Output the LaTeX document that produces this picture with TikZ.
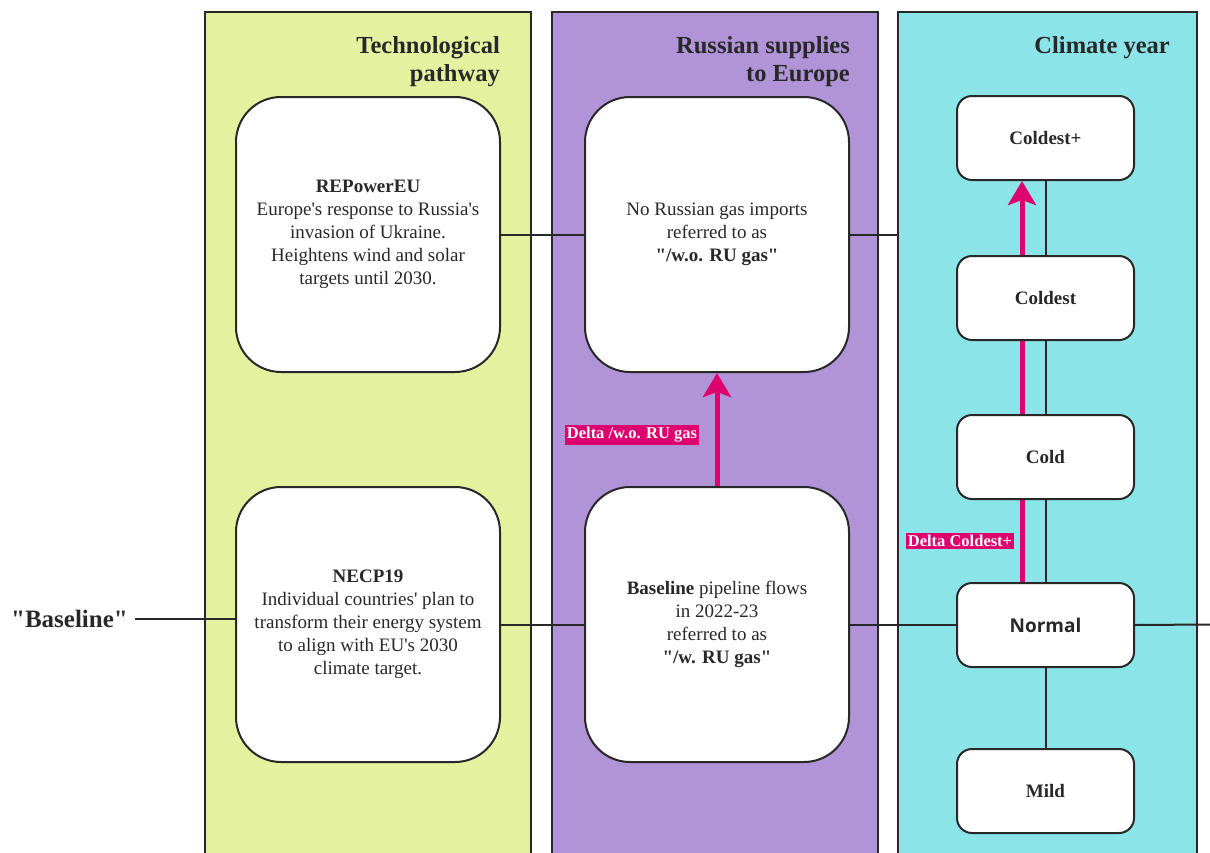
\documentclass[tikz,border=0pt]{standalone}
\usepackage{fontspec}
\setmainfont{Liberation Serif}
\newfontfamily\opensans{Open Sans}
\usetikzlibrary{arrows.meta}
\pgfdeclarelayer{cols}
\pgfdeclarelayer{bg}
\pgfsetlayers{cols,bg,main}
\newcommand\dq{\textquotedbl}
\newcommand\sq{\textquotesingle}
\definecolor{colgreen}{RGB}{228,242,160}
\definecolor{colpurple}{RGB}{177,148,216}
\definecolor{colcyan}{RGB}{138,228,232}
\definecolor{pinkc}{RGB}{222,0,110}
\definecolor{dark}{RGB}{40,40,40}
\begin{document}
\begin{tikzpicture}[x=1pt,y=-1pt,
 column/.style={draw=dark,line width=2pt},
 bigbox/.style={draw=dark,line width=2pt,fill=white,rounded corners=45pt,minimum width=264pt,minimum height=275pt,align=center,font=\fontsize{19}{23}\selectfont,text=dark,inner sep=0pt},
 smallbox/.style={draw=dark,line width=2pt,fill=white,rounded corners=15pt,minimum width=177pt,minimum height=84pt,font=\fontsize{19}{22}\selectfont\bfseries,text=dark},
 title/.style={align=right,anchor=north east,font=\fontsize{24.5}{28}\selectfont\bfseries,inner sep=0pt,text=dark},
 link/.style={draw=dark,line width=2pt},
 delta/.style={-{Stealth[length=24pt,width=28pt,inset=5pt]},draw=pinkc,line width=5pt},
 dlabel/.style={fill=pinkc,text=white,font=\fontsize{16.5}{16.5}\selectfont\bfseries,inner sep=2pt}]
\clip (0,0) rectangle (1210,852);
% columns
\begin{pgfonlayer}{cols}
\draw[column,fill=colgreen] (205,12) rectangle (531,880);
\draw[column,fill=colpurple] (552,12) rectangle (878,880);
\draw[column,fill=colcyan] (898,12) rectangle (1197,880);
\end{pgfonlayer}
% titles
\node[title] (t1) at (500,36) {Technological\\pathway};
\node[title] (t2) at (850,36) {Russian supplies\\to Europe};
\node[title] (t3) at (1170,36) {Climate year};
% big boxes
\node[bigbox] (rep) at (368,234.5) {\textbf{REPowerEU}\\Europe\sq s response to Russia\sq s\\invasion of Ukraine.\\Heightens wind and solar\\targets until 2030.};
\node[bigbox] (necp) at (368,624.5) {\textbf{NECP19}\\Individual countries\sq\ plan to\\transform their energy system\\to align with EU\sq s 2030\\climate target.};
\node[bigbox] (noru) at (717,234.5) {No Russian gas imports\\referred to as\\\textbf{\dq/w.o. RU gas\dq}};
\node[bigbox] (base) at (717,624.5) {\textbf{Baseline} pipeline flows\\in 2022-23\\referred to as\\\textbf{\dq/w. RU gas\dq}};
% small boxes
\node[smallbox] (cp) at (1045.5,138) {Coldest+};
\node[smallbox] (coldest) at (1045.5,298) {Coldest};
\node[smallbox] (cold) at (1045.5,457) {Cold};
\node[smallbox] (normal) at (1045.5,625) {\opensans\bfseries Normal};
\node[smallbox] (mild) at (1045.5,791) {Mild};
% baseline label
\node[anchor=east,font=\fontsize{25}{25}\selectfont\bfseries,text=dark,inner xsep=7pt] (bl) at (135,619) {\dq Baseline\dq};
\coordinate (cedge) at (898,234.5);
\coordinate (rend) at (1210,624.5);
% links
\begin{pgfonlayer}{bg}
\draw[link] (rep.east) -- (noru.west);
\draw[link] (noru.east) -- (cedge);
\draw[link] (bl.east) -- (bl.east -| necp.west);
\draw[link] (necp.east) -- (base.west);
\draw[link] (base.east) -- (base.east -| normal.west);
\draw[link] (normal.east) -- (rend);
\draw[link] (cp.south) -- (coldest.north);
\draw[link] (coldest.south) -- (cold.north);
\draw[link] (cold.south) -- (normal.north);
\draw[link] (normal.south) -- (mild.north);
% deltas
\draw[delta] (base.north) -- (noru.south);
\draw[delta] ([xshift=-23.5pt]normal.north) -- ([xshift=-23.5pt]cp.south);
\end{pgfonlayer}
\node[dlabel] (d1) at (632,435) {Delta /w.o. RU gas};
\node[dlabel] (d2) at (960,541) {Delta Coldest+};
\end{tikzpicture}
\end{document}
